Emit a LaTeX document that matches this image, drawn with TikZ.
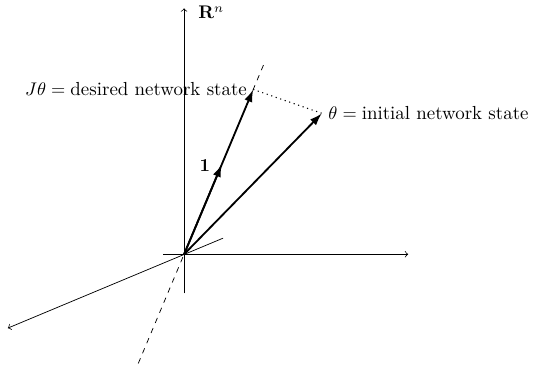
\documentclass[tikz,border=0pt]{standalone}
\usetikzlibrary{arrows.meta,calc}
\begin{document}
\begin{tikzpicture}[>=to,vec/.style={line width=1pt,-{Latex[length=2.4mm,width=1.6mm]}},
            every node/.style={font=\fontsize{10.35}{12}\selectfont}]
            \useasboundingbox (-3.54,-2.15) rectangle (6.71,4.89);
            \coordinate (O) at (0,0);
            \coordinate (xs) at (-0.40,0);
            \coordinate (xe) at (4.31,0);
            \coordinate (ys) at (0,-0.75);
            \coordinate (ye) at (0,4.73);
            \coordinate (zs) at (0.75,0.31);
            \coordinate (ze) at (-3.39,-1.42);
            \coordinate (J) at (1.33,3.17);
            \coordinate (ds) at ($(O)!-0.662!(J)$);
            \coordinate (de) at ($(O)!1.164!(J)$);
            \coordinate (one) at ($(O)!0.545!(J)$);
            \coordinate (T) at (2.65,2.71);
            % axes
            \draw[->] (xs) -- (xe);
            \draw[->] (ys) -- (ye);
            \draw[->] (zs) -- (ze);
            \draw[dashed] (ds) -- (de);
            \node[anchor=west] (Rn) at (0.15,4.65) {$\mathbf{R}^n$};
            % vectors
            \draw[vec] (O) -- (J);
            \draw[vec] (O) -- (one);
            \draw[vec] (O) -- (T);
            \draw[dotted,semithick] (J) -- (T);
            \node[left] (Jlab) at (J) {$J\theta = {}$desired network state};
            \node[right] (Tlab) at (T) {$\theta = {}$initial network state};
            \node (onelab) at (0.40,1.70) {$\mathbf{1}$};
        \end{tikzpicture}
\end{document}
